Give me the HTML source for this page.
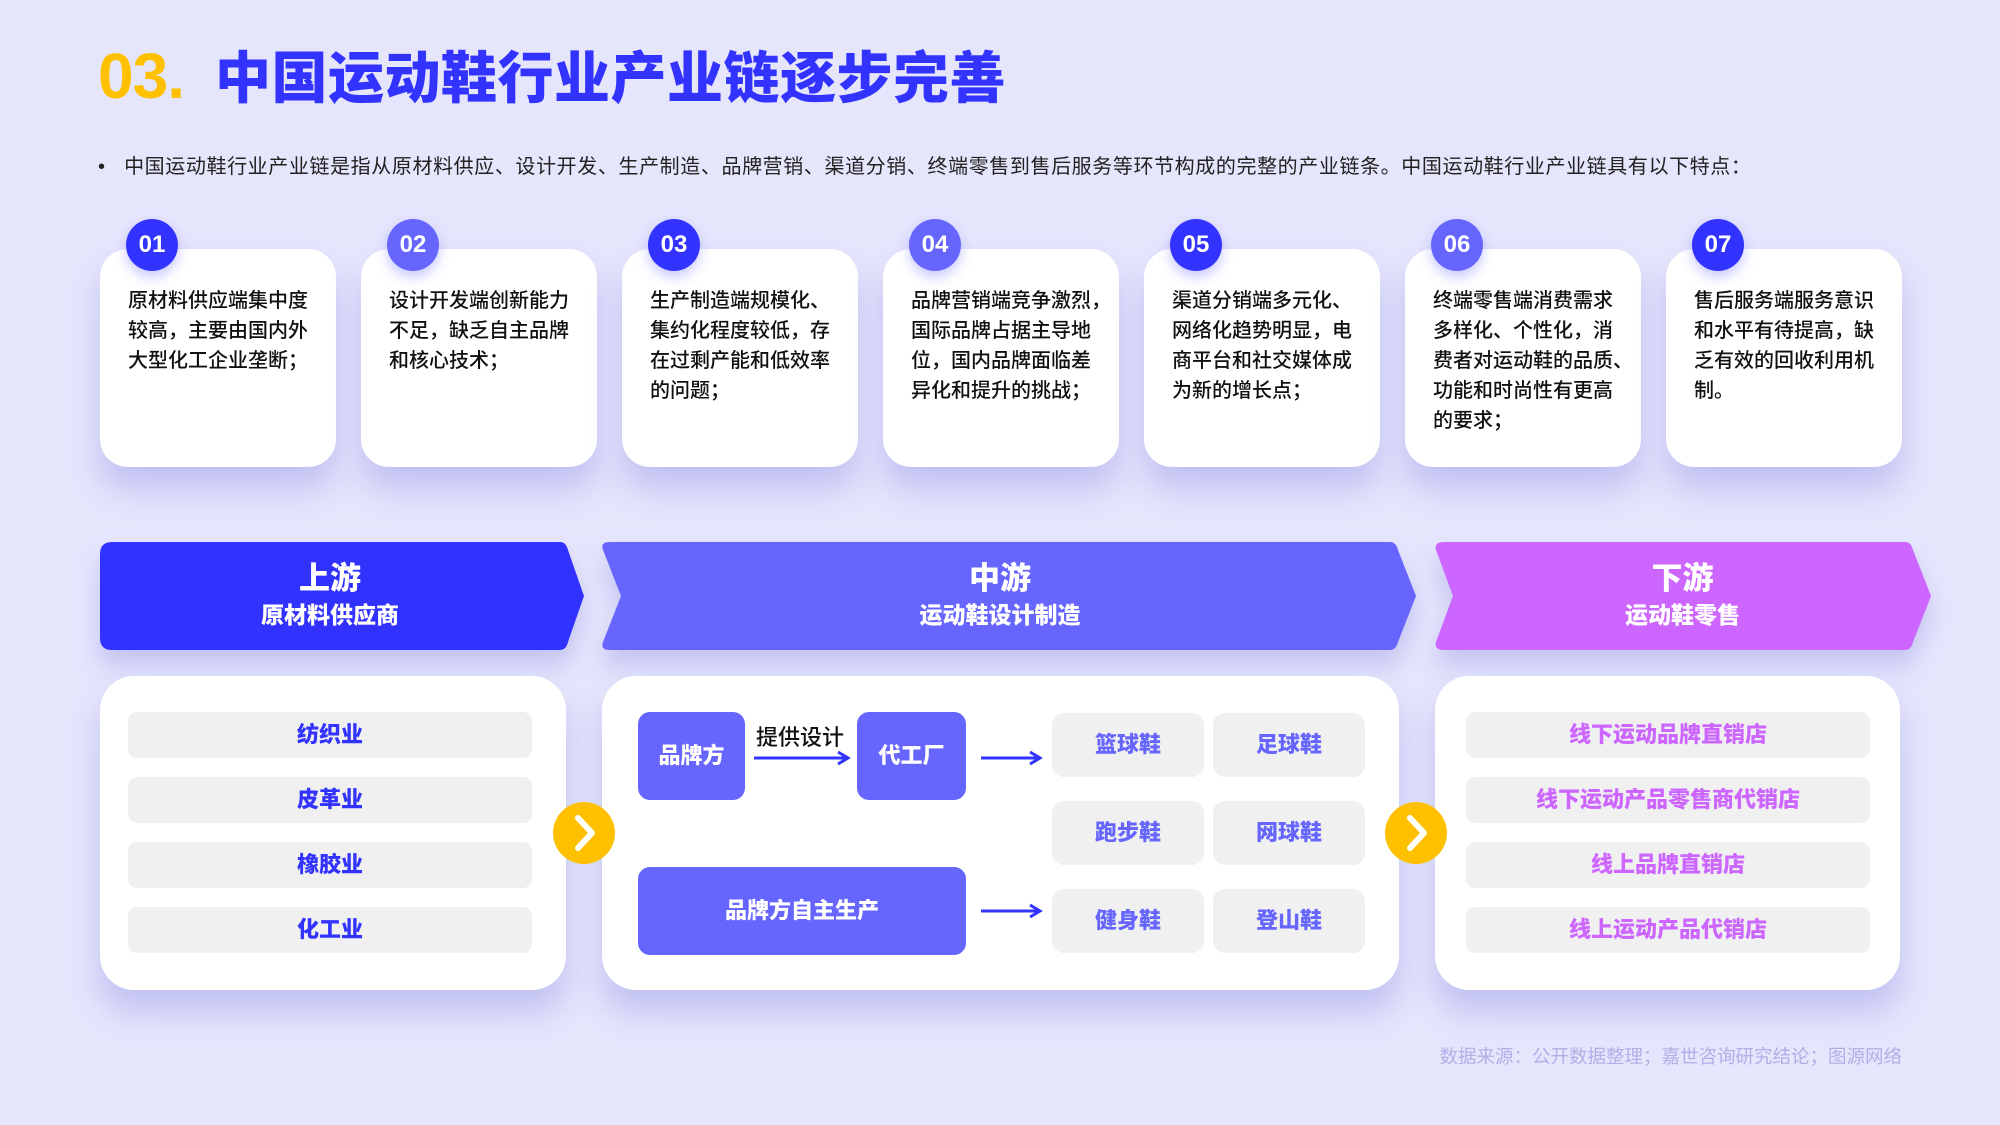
<!DOCTYPE html>
<html><head><meta charset="utf-8"><style>
*{margin:0;padding:0;box-sizing:border-box}
body{width:2000px;height:1125px;background:#e5e5fc;font-family:"Liberation Sans","Noto Sans CJK SC",sans-serif;position:relative;overflow:hidden}
.a{position:absolute}
.title{left:98px;top:34px;font-size:56px;font-weight:900;color:#3333ff;white-space:nowrap;letter-spacing:0.5px}
.title span{color:#ffc000;display:inline-block;width:117px;font-size:64px;font-weight:900;letter-spacing:-1px}
.bul{left:98px;top:150px;font-size:20px;color:#222;white-space:nowrap;letter-spacing:0.6px}
.card{width:236px;height:218px;top:249px;background:#fff;border-radius:28px;box-shadow:0 22px 30px rgba(150,150,230,.45)}
.card p{position:absolute;left:28px;top:37px;width:220px;font-size:20px;line-height:30px;color:#111;font-weight:500;white-space:nowrap}
.badge{width:52px;height:52px;border-radius:50%;top:219px;color:#fff;font-weight:900;font-size:24px;text-align:center;line-height:52px;box-shadow:0 6px 12px rgba(100,100,255,.35)}
.band{top:546px;height:108px;color:#fff;font-weight:900;text-align:center}
.band b{display:block;font-size:31px;padding-top:14px;line-height:38px}
.band i{display:block;font-style:normal;font-size:23px;line-height:34px}
.panel{top:676px;height:314px;background:#fff;border-radius:34px;box-shadow:0 22px 30px rgba(150,150,230,.45)}
.it{height:46px;background:#f0f0f0;border-radius:9px;font-size:22px;font-weight:900;text-align:center;line-height:46px}
.sh{width:152px;height:64px;background:#f0f0f0;border-radius:12px;font-size:22px;font-weight:900;color:#6666ff;text-align:center;line-height:64px}
.bx{background:#6666ff;color:#fff;border-radius:12px;font-size:22px;font-weight:900;text-align:center}
</style></head><body>
<div class="a title"><span>03.</span>中国运动鞋行业产业链逐步完善</div>
<div class="a bul">•&nbsp;&nbsp;&nbsp;中国运动鞋行业产业链是指从原材料供应、设计开发、生产制造、品牌营销、渠道分销、终端零售到售后服务等环节构成的完整的产业链条。中国运动鞋行业产业链具有以下特点：</div>

<div class="a card" style="left:100px"><p>原材料供应端集中度<br>较高，主要由国内外<br>大型化工企业垄断；</p></div>
<div class="a card" style="left:361px"><p>设计开发端创新能力<br>不足，缺乏自主品牌<br>和核心技术；</p></div>
<div class="a card" style="left:622px"><p>生产制造端规模化、<br>集约化程度较低，存<br>在过剩产能和低效率<br>的问题；</p></div>
<div class="a card" style="left:883px"><p>品牌营销端竞争激烈，<br>国际品牌占据主导地<br>位，国内品牌面临差<br>异化和提升的挑战；</p></div>
<div class="a card" style="left:1144px"><p>渠道分销端多元化、<br>网络化趋势明显，电<br>商平台和社交媒体成<br>为新的增长点；</p></div>
<div class="a card" style="left:1405px"><p>终端零售端消费需求<br>多样化、个性化，消<br>费者对运动鞋的品质、<br>功能和时尚性有更高<br>的要求；</p></div>
<div class="a card" style="left:1666px"><p>售后服务端服务意识<br>和水平有待提高，缺<br>乏有效的回收利用机<br>制。</p></div>

<div class="a badge" style="left:126px;background:#3333ff">01</div>
<div class="a badge" style="left:387px;background:#6666ff">02</div>
<div class="a badge" style="left:648px;background:#3333ff">03</div>
<div class="a badge" style="left:909px;background:#6666ff">04</div>
<div class="a badge" style="left:1170px;background:#3333ff">05</div>
<div class="a badge" style="left:1431px;background:#6666ff">06</div>
<div class="a badge" style="left:1692px;background:#3333ff">07</div>

<svg class="a" style="left:0;top:0" width="2000" height="1125">
<defs><filter id="f" x="-10%" y="-30%" width="120%" height="170%"><feDropShadow dx="0" dy="16" stdDeviation="12" flood-color="#9a9ae6" flood-opacity=".45"/></filter></defs>
<path filter="url(#f)" d="M112 542 H560 Q566 542 568 550 L584 596 L568 642 Q566 650 560 650 H112 Q100 650 100 638 V554 Q100 542 112 542Z" fill="#3333ff"/>
<path filter="url(#f)" d="M610 542 H1390 Q1396 542 1398 550 L1416 596 L1398 642 Q1396 650 1390 650 H610 Q600 650 603 642 L621 596 L603 550 Q600 542 610 542Z" fill="#6666ff"/>
<path filter="url(#f)" d="M1444 542 H1905 Q1911 542 1913 550 L1931 596 L1913 642 Q1911 650 1905 650 H1444 Q1434 650 1436 642 L1453 596 L1436 550 Q1434 542 1444 542Z" fill="#cc66ff"/>
</svg>
<div class="a band" style="left:100px;width:460px"><b>上游</b><i>原材料供应商</i></div>
<div class="a band" style="left:620px;width:760px"><b>中游</b><i>运动鞋设计制造</i></div>
<div class="a band" style="left:1450px;width:465px"><b>下游</b><i>运动鞋零售</i></div>

<div class="a panel" style="left:100px;width:466px"></div>
<div class="a panel" style="left:602px;width:797px"></div>
<div class="a panel" style="left:1435px;width:465px"></div>

<div class="a it" style="left:128px;top:712px;width:404px;color:#3333ff">纺织业</div>
<div class="a it" style="left:128px;top:777px;width:404px;color:#3333ff">皮革业</div>
<div class="a it" style="left:128px;top:842px;width:404px;color:#3333ff">橡胶业</div>
<div class="a it" style="left:128px;top:907px;width:404px;color:#3333ff">化工业</div>

<div class="a it" style="left:1466px;top:712px;width:404px;color:#cc66ff">线下运动品牌直销店</div>
<div class="a it" style="left:1466px;top:777px;width:404px;color:#cc66ff">线下运动产品零售商代销店</div>
<div class="a it" style="left:1466px;top:842px;width:404px;color:#cc66ff">线上品牌直销店</div>
<div class="a it" style="left:1466px;top:907px;width:404px;color:#cc66ff">线上运动产品代销店</div>

<div class="a bx" style="left:638px;top:712px;width:107px;height:88px;line-height:88px">品牌方</div>
<div class="a bx" style="left:857px;top:712px;width:109px;height:88px;line-height:88px">代工厂</div>
<div class="a bx" style="left:638px;top:867px;width:328px;height:88px;line-height:88px">品牌方自主生产</div>
<div class="a" style="left:756px;top:720px;font-size:22px;color:#111;font-weight:500">提供设计</div>

<div class="a sh" style="left:1052px;top:713px">篮球鞋</div>
<div class="a sh" style="left:1213px;top:713px">足球鞋</div>
<div class="a sh" style="left:1052px;top:801px">跑步鞋</div>
<div class="a sh" style="left:1213px;top:801px">网球鞋</div>
<div class="a sh" style="left:1052px;top:889px">健身鞋</div>
<div class="a sh" style="left:1213px;top:889px">登山鞋</div>

<svg class="a" style="left:0;top:0" width="2000" height="1125">
<g stroke="#3333ff" stroke-width="3" fill="none">
<line x1="754" y1="758" x2="846" y2="758"/><polyline points="838,752 848,758 838,764"/>
<line x1="981" y1="758" x2="1038" y2="758"/><polyline points="1030,752 1040,758 1030,764"/>
<line x1="981" y1="911" x2="1038" y2="911"/><polyline points="1030,905 1040,911 1030,917"/>
</g>
<circle cx="584" cy="833" r="31" fill="#ffc000"/>
<polyline points="578,818 592,833 578,848" stroke="#fff" stroke-width="6" fill="none" stroke-linecap="round" stroke-linejoin="round"/>
<circle cx="1416" cy="833" r="31" fill="#ffc000"/>
<polyline points="1410,818 1424,833 1410,848" stroke="#fff" stroke-width="6" fill="none" stroke-linecap="round" stroke-linejoin="round"/>
</svg>

<div class="a" style="right:98px;top:1043px;font-size:18.5px;color:#b0b0e8">数据来源：公开数据整理；嘉世咨询研究结论；图源网络</div>
</body></html>
